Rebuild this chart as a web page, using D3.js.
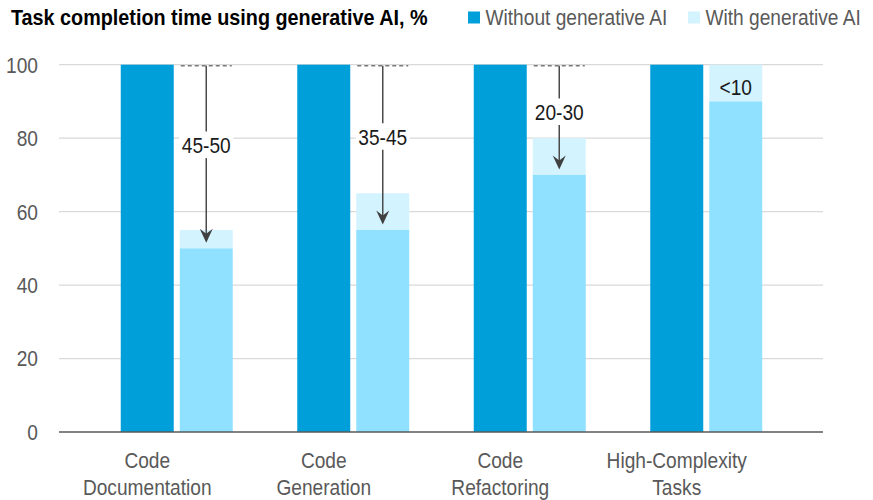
<!DOCTYPE html>
<html>
<head>
<meta charset="utf-8">
<script src="https://cdn.jsdelivr.net/npm/d3@7"></script>
<style>
  body { margin: 0; background: #fff; }
  svg { font-family: "Liberation Sans", Arial, sans-serif; }
</style>
</head>
<body>
<svg id="chart" width="873" height="500"></svg>
<script>
// Chart data
const categories = ["Code Documentation", "Code Generation", "Code Refactoring", "High-Complexity Tasks"];
const category_lines = [["Code", "Documentation"], ["Code", "Generation"], ["Code", "Refactoring"], ["High-Complexity", "Tasks"]];
const without_ai = [100, 100, 100, 100];
const with_ai_low = [50, 55, 70, 90];
const with_ai_high = [55, 65, 80, 100];
const reduction_labels = ["45-50", "35-45", "20-30", "<10"];
const has_arrow = [true, true, true, false];
const y_ticks = [0, 20, 40, 60, 80, 100];

// Colors
const color_without = "#009fda";
const color_with_low = "#90e1ff";
const color_with_high = "#d3f3ff";
const text_gray = "#595959";

// No narrow font installed: squeeze regular text horizontally instead
const narrow = 0.87;
const narrow_bold = 0.9;
const font_size = "22px";

const svg = d3.select("#chart");

const x = d3.scaleBand().domain(categories).range([59, 765]);
const y = d3.scaleLinear().domain([0, 100]).range([432, 64.7]);
const plot_right = 823;
const bar_w = 53;
const gap = 6;

const center = (c) => x(c) + x.bandwidth() / 2;
const light_x = (c) => center(c) + bar_w / 2 + gap;
const squeeze = (px, py, k) => `translate(${px},${py}) scale(${k},1)`;

// Gridlines
svg.append("g")
    .selectAll("line")
    .data(y_ticks.filter(d => d > 0))
    .enter()
    .append("line")
    .attr("x1", 59)
    .attr("x2", plot_right)
    .attr("y1", d => y(d))
    .attr("y2", d => y(d))
    .attr("stroke", "#d9d9d9")
    .attr("stroke-width", 1.2);

// Y tick labels
svg.append("g")
    .selectAll("text")
    .data(y_ticks)
    .enter()
    .append("text")
    .attr("transform", d => squeeze(38, y(d), narrow))
    .attr("dy", "0.36em")
    .attr("text-anchor", "end")
    .attr("fill", text_gray)
    .style("font-size", font_size)
    .text(d => d);

// Bars without AI
svg.append("g")
    .selectAll("rect")
    .data(categories)
    .enter()
    .append("rect")
    .attr("x", c => center(c) - bar_w / 2)
    .attr("width", bar_w)
    .attr("y", (c, i) => y(without_ai[i]))
    .attr("height", (c, i) => y(0) - y(without_ai[i]))
    .attr("fill", color_without);

// Bars with AI: pale range on top, solid part below
svg.append("g")
    .selectAll("rect")
    .data(categories)
    .enter()
    .append("rect")
    .attr("x", light_x)
    .attr("width", bar_w)
    .attr("y", (c, i) => y(with_ai_high[i]))
    .attr("height", (c, i) => y(with_ai_low[i]) - y(with_ai_high[i]))
    .attr("fill", color_with_high);

svg.append("g")
    .selectAll("rect")
    .data(categories)
    .enter()
    .append("rect")
    .attr("x", light_x)
    .attr("width", bar_w)
    .attr("y", (c, i) => y(with_ai_low[i]))
    .attr("height", (c, i) => y(0) - y(with_ai_low[i]))
    .attr("fill", color_with_low);

// X axis line
svg.append("line")
    .attr("x1", 59)
    .attr("x2", plot_right)
    .attr("y1", y(0))
    .attr("y2", y(0))
    .attr("stroke", "#595959")
    .attr("stroke-width", 1.5);

// Category labels (two lines each, centered under the first bar)
const cat_labels = svg.append("g")
    .selectAll("text")
    .data(categories)
    .enter()
    .append("text")
    .attr("transform", c => squeeze(center(c), 468, narrow))
    .attr("text-anchor", "middle")
    .attr("fill", text_gray)
    .style("font-size", font_size);

cat_labels.selectAll("tspan")
    .data((c, i) => category_lines[i])
    .enter()
    .append("tspan")
    .attr("x", 0)
    .attr("dy", (d, j) => j === 0 ? 0 : 27)
    .text(d => d);

// Reduction arrows and labels
const ann = svg.append("g");
categories.forEach((c, i) => {
    const cx = light_x(c) + bar_w / 2;
    if (has_arrow[i]) {
        const end_value = with_ai_low[i] + 1.5;
        const tip = y(end_value);
        ann.append("line")
            .attr("x1", light_x(c) + 1)
            .attr("x2", light_x(c) + bar_w - 1)
            .attr("y1", y(100) + 1)
            .attr("y2", y(100) + 1)
            .attr("stroke", "#7a7a7a")
            .attr("stroke-width", 1.5)
            .attr("stroke-dasharray", "4,3");
        ann.append("line")
            .attr("x1", cx)
            .attr("x2", cx)
            .attr("y1", y(100) + 1)
            .attr("y2", tip - 6)
            .attr("stroke", "#4a4a4a")
            .attr("stroke-width", 1.5);
        ann.append("path")
            .attr("d", `M${cx},${tip} L${cx - 6.5},${tip - 14} L${cx},${tip - 9} L${cx + 6.5},${tip - 14} Z`)
            .attr("fill", "#404040");
        const label_value = end_value + 0.55 * (100 - end_value);
        const g = ann.append("g")
            .attr("transform", squeeze(cx, y(label_value), narrow));
        const t = g.append("text")
            .attr("dy", "0.36em")
            .attr("text-anchor", "middle")
            .attr("fill", "#1a1a1a")
            .style("font-size", font_size)
            .text(reduction_labels[i]);
        const bb = t.node().getBBox();
        g.insert("rect", "text")
            .attr("x", bb.x - 3)
            .attr("y", bb.y - 1)
            .attr("width", bb.width + 6)
            .attr("height", bb.height + 2)
            .attr("fill", "#fff");
    } else {
        ann.append("text")
            .attr("transform", squeeze(cx, y((with_ai_low[i] + with_ai_high[i]) / 2) + 4, narrow))
            .attr("dy", "0.36em")
            .attr("text-anchor", "middle")
            .attr("fill", "#1a1a1a")
            .style("font-size", font_size)
            .text(reduction_labels[i]);
    }
});

// Title
svg.append("text")
    .attr("transform", squeeze(11, 25, narrow_bold))
    .attr("fill", "#000")
    .style("font-size", font_size)
    .style("font-weight", "bold")
    .text("Task completion time using generative AI, %");

// Legend
const legend_items = [
    { label: "Without generative AI", color: color_without, x: 468 },
    { label: "With generative AI", color: color_with_high, x: 688 }
];
const legend = svg.append("g")
    .selectAll("g")
    .data(legend_items)
    .enter()
    .append("g")
    .attr("transform", d => `translate(${d.x},0)`);
legend.append("rect")
    .attr("y", 11.5)
    .attr("width", 12)
    .attr("height", 12)
    .attr("fill", d => d.color);
legend.append("text")
    .attr("transform", squeeze(17.5, 25, narrow))
    .attr("fill", text_gray)
    .style("font-size", font_size)
    .text(d => d.label);
</script>
</body>
</html>
